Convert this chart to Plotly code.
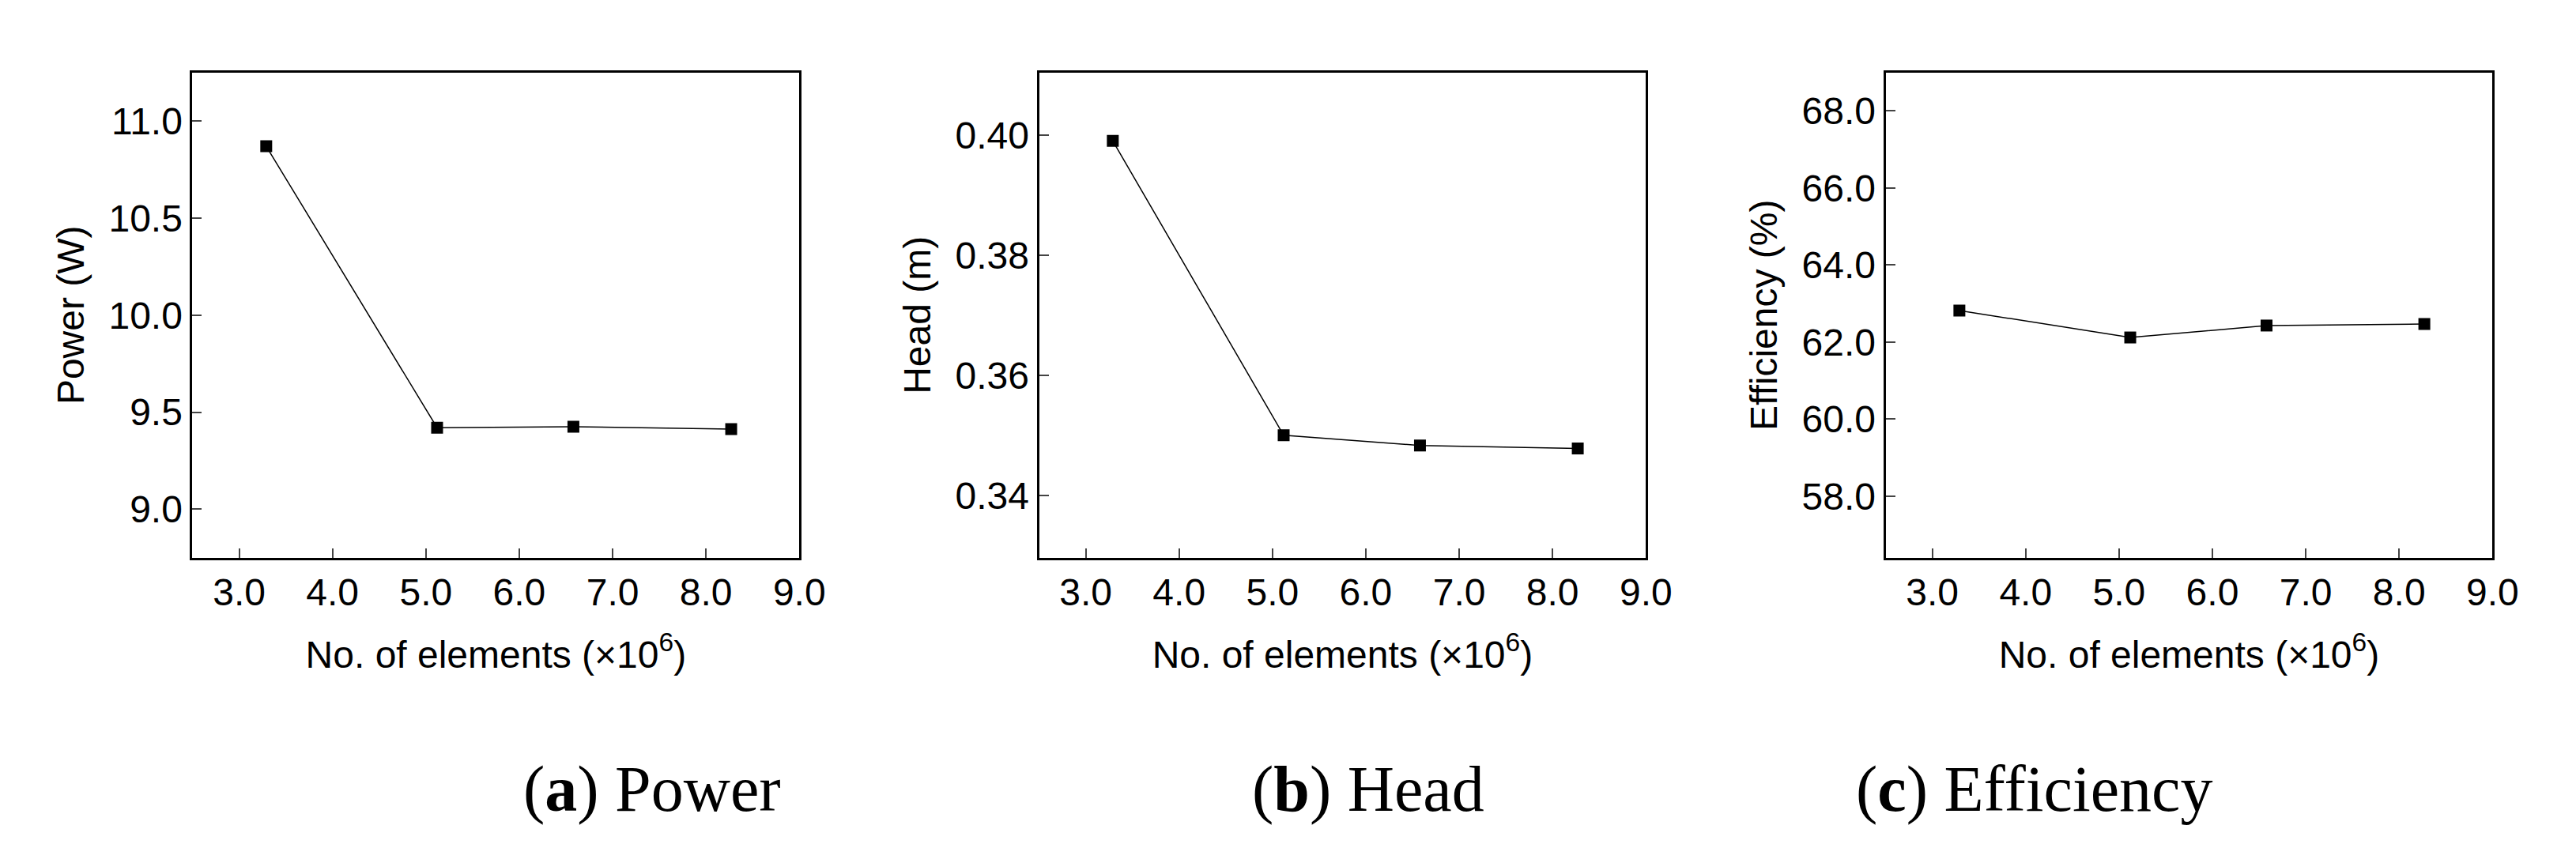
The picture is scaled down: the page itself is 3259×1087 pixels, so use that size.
import plotly.graph_objects as go

elements = [3.29, 5.12, 6.58, 8.27]
power = [10.87, 9.42, 9.425, 9.413]
head = [0.399, 0.350, 0.3483, 0.3478]
efficiency = [62.82, 62.12, 62.43, 62.47]

x_ticks = [3.0, 4.0, 5.0, 6.0, 7.0, 8.0, 9.0]
y_titles = ["Power (W)", "Head (m)", "Efficiency (%)"]
captions = ["(<b>a</b>) Power", "(<b>b</b>) Head", "(<b>c</b>) Efficiency"]
y_ranges = [[8.75, 11.25], [0.3296, 0.4104], [56.4, 69.0]]
y_ticks = [[9.0, 9.5, 10.0, 10.5, 11.0], [0.34, 0.36, 0.38, 0.40], [58, 60, 62, 64, 66, 68]]
y_fmt = [".1f", ".2f", ".1f"]

fig = go.Figure()
doms = [(0.073, 0.311), (0.405, 0.643), (0.737, 0.975)]
series = [power, head, efficiency]
font = dict(family="Liberation Sans, Arial, sans-serif", size=48, color="black")
for i in range(3):
    s = "" if i == 0 else str(i + 1)
    fig.add_trace(go.Scatter(x=elements, y=series[i], mode="lines+markers",
                             line=dict(color="black", width=1.5),
                             marker=dict(symbol="square", size=15, color="black"),
                             xaxis="x" + s, yaxis="y" + s, showlegend=False))
    fig.layout["xaxis" + s] = dict(domain=doms[i], anchor="y" + s, range=[2.5, 9.0],
        tickvals=x_ticks, tickformat=".1f", ticks="inside", ticklen=12, tickwidth=2,
        showline=True, linewidth=3, linecolor="black", mirror=True, showgrid=False,
        zeroline=False, tickfont=font,
        title=dict(text="No. of elements (×10<sup>6</sup>)", font=font, standoff=36))
    fig.layout["yaxis" + s] = dict(domain=[0.358, 0.923], anchor="x" + s, range=y_ranges[i],
        tickvals=y_ticks[i], tickformat=y_fmt[i], ticks="inside", ticklen=12, tickwidth=2,
        showline=True, linewidth=3, linecolor="black", mirror=True, showgrid=False,
        zeroline=False, tickfont=font, title=dict(text=y_titles[i], font=font, standoff=16))
    fig.add_annotation(text=captions[i], x=(doms[i][0] + doms[i][1]) / 2 + 0.01, y=0.045,
                       xref="paper", yref="paper", showarrow=False,
                       font=dict(family="Liberation Serif, serif", size=82, color="black"))

fig.update_layout(width=3259, height=1087, margin=dict(l=0, r=0, t=0, b=0),
                  plot_bgcolor="white", paper_bgcolor="white")
fig.write_html("out.html")
